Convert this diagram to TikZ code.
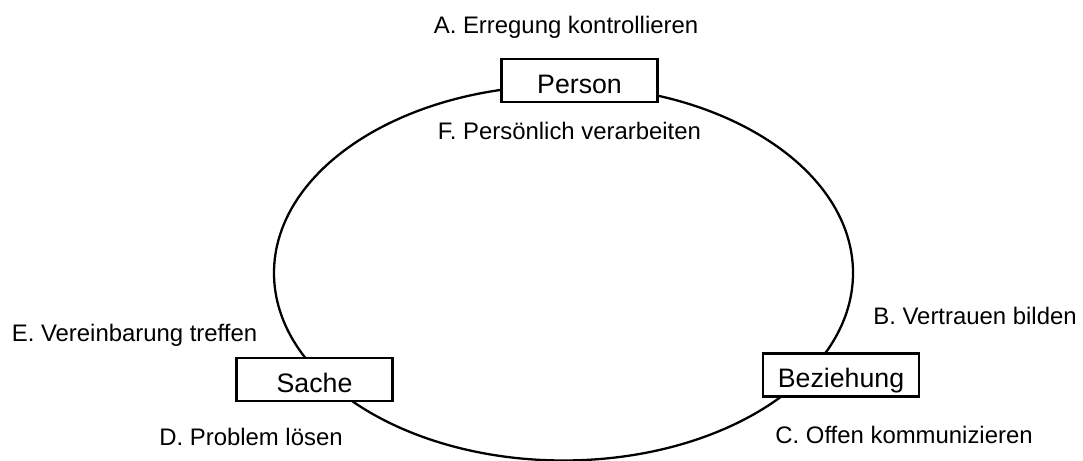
\documentclass[tikz,border=0pt]{standalone}
\usepackage{fontspec}
\setmainfont{Liberation Sans}
\usepackage{tikz}

\begin{document}
\begin{tikzpicture}[
  box/.style={draw, fill=white, line width=1.3pt, minimum width=3.12cm, inner sep=0pt,
    text height=0.69cm, text depth=0.17cm, font=\fontsize{15.2}{18}\selectfont},
  lbl/.style={anchor=base, inner sep=0pt, font=\fontsize{13.6}{16}\selectfont}]
\useasboundingbox (0,0) rectangle (21.66,9.22);
\draw[line width=1.3pt] (11.27,3.76) ellipse (5.79 and 3.75);

\node[box] (person) at (11.59,7.61) {Person};
\node[box] (sache) at (6.29,1.63) {Sache};
\node[box] (beziehung) at (16.82,1.72) {Beziehung};

\node[lbl] (erregung) at (11.32,8.54) {A. Erregung kontrollieren};
\node[lbl] (vertrauen) at (19.50,2.72) {B. Vertrauen bilden};
\node[lbl] (offen) at (18.08,0.34) {C. Offen kommunizieren};
\node[lbl] (problem) at (5.02,0.30) {D. Problem lösen};
\node[lbl] (vereinbarung) at (2.69,2.38) {E. Vereinbarung treffen};
\node[lbl] (verarbeiten) at (11.39,6.42) {F. Persönlich verarbeiten};
\end{tikzpicture}
\end{document}
